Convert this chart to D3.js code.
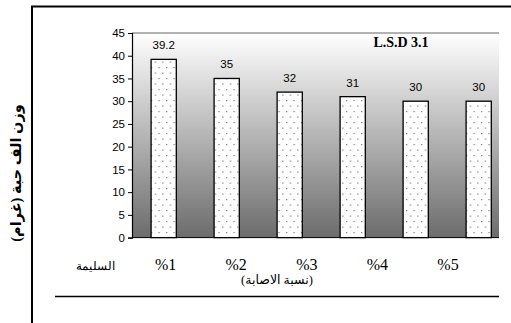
<!DOCTYPE html>
<html><head><meta charset="utf-8">
<script src="https://cdn.jsdelivr.net/npm/d3@7"></script>
<style>body{margin:0;background:#fff}svg{display:block}</style>
</head><body>
<script>
const categories = ["السليمة", "%1", "%2", "%3", "%4", "%5"];
const values = [39.2, 35, 32, 31, 30, 30];
const valueLabels = ["39.2", "35", "32", "31", "30", "30"];
const yTicks = [0, 5, 10, 15, 20, 25, 30, 35, 40, 45];
const yTitle = "وزن الف حبة (غرام)";
const xTitle = "(نسبة الاصابة)";
const lsdText = "L.S.D 3.1";

const W = 511, H = 323;
const svg = d3.select("body").append("svg").attr("width", W).attr("height", H);
const defs = svg.append("defs");
const grad = defs.append("linearGradient").attr("id", "bg").attr("x1", 0).attr("y1", 0).attr("x2", 0).attr("y2", 1);
grad.append("stop").attr("offset", "0%").attr("stop-color", "#ffffff");
grad.append("stop").attr("offset", "100%").attr("stop-color", "#6c6c6c");
const pat = defs.append("pattern").attr("id", "dots").attr("patternUnits", "userSpaceOnUse")
  .attr("width", 7.5).attr("height", 11);
pat.append("rect").attr("width", 7.5).attr("height", 11).attr("fill", "#fff");
pat.append("rect").attr("x", 1).attr("y", 1).attr("width", 1.2).attr("height", 1.2).attr("fill", "#777");
pat.append("rect").attr("x", 4.8).attr("y", 6.5).attr("width", 1.2).attr("height", 1.2).attr("fill", "#777");

const plot = {left: 132, right: 499, top: 33, bottom: 237.6};
const y = d3.scaleLinear().domain([0, 45]).range([plot.bottom, plot.top]);
const x = d3.scaleBand().domain(categories).range([132.2, 510.2]).paddingInner(0.6).paddingOuter(0.3);
const xl = d3.scaleBand().domain(categories).range([59.7, 483.3]).padding(0);

// frame lines
svg.append("line").attr("x1", 31).attr("x2", W).attr("y1", 6.5).attr("y2", 6.5).attr("stroke", "#000").attr("stroke-width", 2);
svg.append("line").attr("x1", 32).attr("x2", 32).attr("y1", 6).attr("y2", H).attr("stroke", "#000").attr("stroke-width", 2);
svg.append("line").attr("x1", 55).attr("x2", 499).attr("y1", 296.5).attr("y2", 296.5).attr("stroke", "#000").attr("stroke-width", 1.5);

// plot background
svg.append("rect").attr("x", plot.left).attr("y", plot.top).attr("width", plot.right - plot.left)
  .attr("height", plot.bottom - plot.top).attr("fill", "url(#bg)");
svg.append("line").attr("x1", plot.left).attr("x2", plot.right).attr("y1", plot.top).attr("y2", plot.top)
  .attr("stroke", "#999").attr("stroke-width", 1.5);

// y axis
const ya = svg.append("g").attr("transform", `translate(${plot.left},0)`)
  .call(d3.axisLeft(y).tickValues(yTicks).tickSize(4).tickPadding(3));
ya.select(".domain").attr("stroke", "#000").attr("stroke-width", 1.2);
ya.selectAll(".tick line").attr("stroke", "#000");
ya.selectAll("text").attr("font-family", "Arial, 'Liberation Sans', sans-serif").attr("font-size", 11.5).attr("fill", "#000");
// baseline
svg.append("line").attr("x1", plot.left).attr("x2", plot.right).attr("y1", plot.bottom).attr("y2", plot.bottom)
  .attr("stroke", "#000").attr("stroke-width", 1);

// bars
svg.selectAll("rect.bar").data(categories).enter().append("rect").attr("class", "bar")
  .attr("x", d => x(d)).attr("width", x.bandwidth())
  .attr("y", (d, i) => y(values[i])).attr("height", (d, i) => plot.bottom - y(values[i]))
  .attr("fill", "url(#dots)").attr("stroke", "#000").attr("stroke-width", 1.3);

// value labels
svg.selectAll("text.val").data(categories).enter().append("text").attr("class", "val")
  .attr("x", d => x(d) + x.bandwidth() / 2).attr("y", (d, i) => y(values[i]) - 10)
  .attr("text-anchor", "middle").attr("font-family", "Arial, 'Liberation Sans', sans-serif")
  .attr("font-size", 11.5).text((d, i) => valueLabels[i]);

// category labels
svg.selectAll("text.cat").data(categories).enter().append("text").attr("class", "cat")
  .attr("x", d => xl(d) + xl.bandwidth() / 2).attr("y", 270)
  .attr("text-anchor", "middle").attr("font-family", "'Liberation Serif', 'Times New Roman', serif")
  .attr("font-size", (d, i) => i === 0 ? 12 : 16).attr("direction", "ltr").text(d => d);

// x title
svg.append("text").attr("x", 277).attr("y", 284).attr("text-anchor", "middle")
  .attr("font-family", "'Liberation Serif', 'DejaVu Sans', serif").attr("font-size", 12.5).text(xTitle);

// y title
svg.append("text").attr("transform", "translate(21,173) rotate(-90)").attr("text-anchor", "middle")
  .attr("font-family", "'Liberation Serif', 'DejaVu Sans', serif").attr("font-weight", "bold").attr("font-size", 14.5).text(yTitle);

// LSD
svg.append("text").attr("x", 401).attr("y", 47).attr("text-anchor", "middle")
  .attr("font-family", "'Liberation Serif', 'Times New Roman', serif").attr("font-weight", "bold")
  .attr("font-size", 14).text(lsdText);
</script>
</body></html>
